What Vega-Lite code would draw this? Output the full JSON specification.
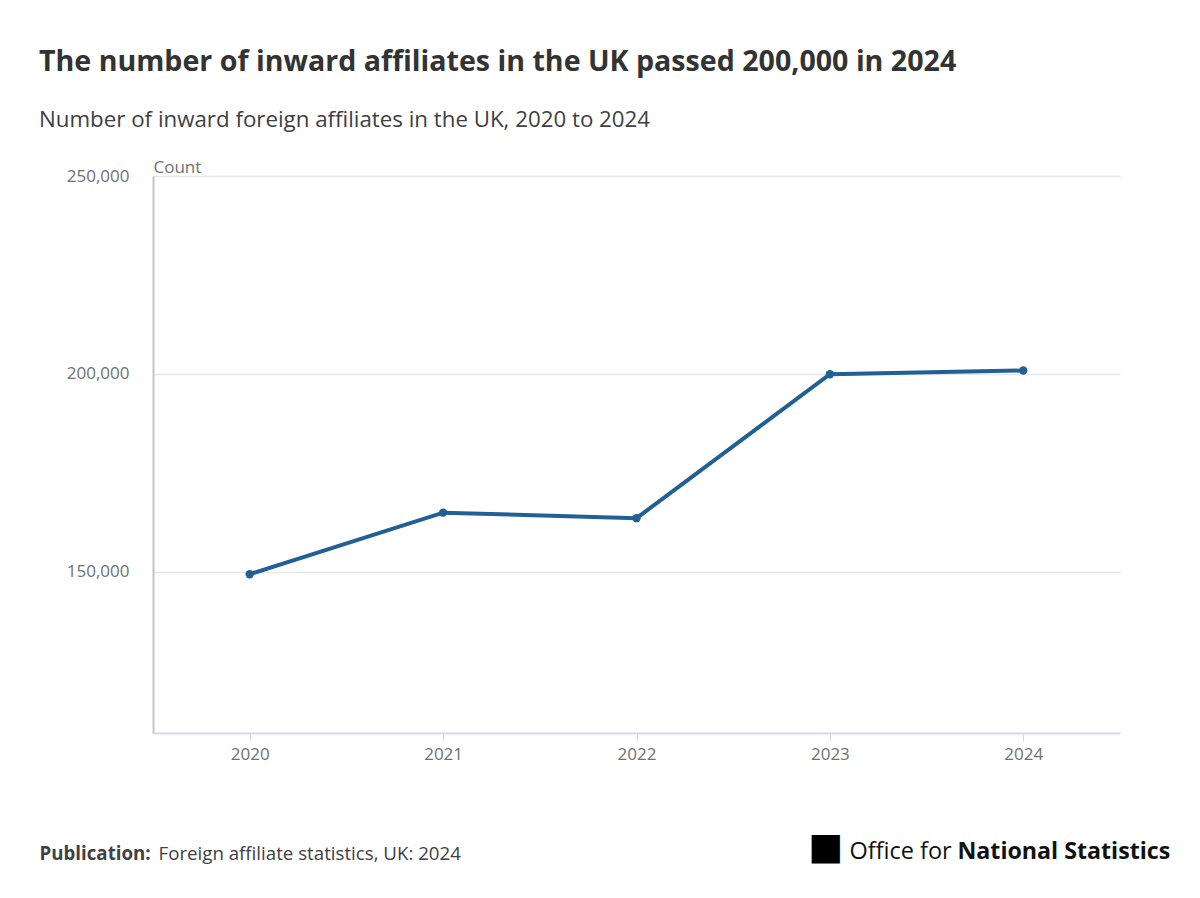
{
  "$schema": "https://vega.github.io/schema/vega-lite/v6.json",
  "width": 967,
  "height": 557,
  "autosize": {"type": "none"},
  "padding": {"left": 153, "top": 176, "right": 80, "bottom": 165},
  "background": "white",
  "config": {
    "font": "Open Sans",
    "view": {"stroke": null}
  },
  "title": {
    "text": "The number of inward affiliates in the UK passed 200,000 in 2024",
    "subtitle": "Number of inward foreign affiliates in the UK, 2020 to 2024",
    "anchor": "start",
    "frame": "group",
    "dx": -114,
    "offset": 27,
    "font": "Open Sans",
    "fontSize": 28.6,
    "fontWeight": "bold",
    "color": "#333333",
    "subtitleFont": "Open Sans",
    "subtitleFontSize": 22.3,
    "subtitleColor": "#414042",
    "subtitlePadding": 32
  },
  "data": {
    "values": [
      {"year": "2020", "affiliates": 149340},
      {"year": "2021", "affiliates": 164900},
      {"year": "2022", "affiliates": 163500},
      {"year": "2023", "affiliates": 199900},
      {"year": "2024", "affiliates": 200830}
    ]
  },
  "layer": [
    {
      "mark": {"type": "line", "opacity": 0},
      "encoding": {
        "x": {
          "field": "year", "type": "ordinal",
          "scale": {"type": "point", "padding": 0.5, "domain": ["2020", "2021", "2022", "2023", "2024"]},
          "axis": {
            "orient": "top", "labels": false, "ticks": false, "domain": false, "grid": false,
            "title": "National Statistics",
            "titleX": 804, "titleY": 682, "titleAlign": "left", "titleAnchor": null,
            "titleBaseline": "alphabetic", "titleFont": "Open Sans", "titleFontSize": 23.2,
            "titleFontWeight": "bold", "titleColor": "#111111"
          }
        },
        "y": {
          "field": "affiliates", "type": "quantitative",
          "scale": {"domain": [109200, 250000], "nice": false, "zero": false},
          "axis": {
            "orient": "left", "labels": false, "ticks": false, "domain": false, "grid": false,
            "title": "■", "titleAngle": 0,
            "titleX": 655, "titleY": 682, "titleAlign": "left", "titleAnchor": null,
            "titleBaseline": "alphabetic", "titleFont": "DejaVu Sans", "titleFontSize": 37,
            "titleFontWeight": "normal", "titleColor": "#000000"
          }
        }
      }
    },
    {
      "mark": {"type": "line", "color": "#206095", "strokeWidth": 4},
      "encoding": {
        "x": {
          "field": "year", "type": "ordinal",
          "scale": {"type": "point", "padding": 0.5, "domain": ["2020", "2021", "2022", "2023", "2024"]},
          "axis": {
            "orient": "bottom",
            "labelAngle": 0,
            "labelFont": "Open Sans", "labelFontSize": 17, "labelColor": "#707070",
            "labelPadding": 5,
            "domainColor": "#d3dae6", "domainWidth": 2,
            "tickColor": "#d3dae6", "tickSize": 8, "tickWidth": 1,
            "grid": false,
            "title": "Publication:",
            "titleX": -114, "titleY": 126, "titleAlign": "left", "titleAnchor": null,
            "titleBaseline": "alphabetic", "titleFont": "Open Sans", "titleFontSize": 18.7,
            "titleFontWeight": "bold", "titleColor": "#414042"
          }
        },
        "y": {
          "field": "affiliates", "type": "quantitative",
          "scale": {"domain": [109200, 250000], "nice": false, "zero": false},
          "axis": {
            "orient": "left",
            "values": [150000, 200000, 250000],
            "format": ",d",
            "labelFont": "Open Sans", "labelFontSize": 17, "labelColor": "#707070",
            "labelPadding": 24,
            "ticks": false,
            "domainColor": "#c4c4c4", "domainWidth": 2,
            "grid": true, "gridColor": "#e6e6e6", "gridWidth": 1.5,
            "title": "Count", "titleAngle": 0,
            "titleX": 0, "titleY": -4, "titleAlign": "left", "titleAnchor": null,
            "titleBaseline": "alphabetic", "titleFont": "Open Sans", "titleFontSize": 17,
            "titleFontWeight": "normal", "titleColor": "#707070"
          }
        }
      }
    },
    {
      "mark": {"type": "point", "filled": true, "color": "#206095", "size": 70, "opacity": 1},
      "encoding": {
        "x": {
          "field": "year", "type": "ordinal",
          "scale": {"type": "point", "padding": 0.5, "domain": ["2020", "2021", "2022", "2023", "2024"]},
          "axis": {
            "orient": "bottom", "labels": false, "ticks": false, "domain": false, "grid": false,
            "title": "Foreign affiliate statistics, UK: 2024",
            "titleX": 5, "titleY": 126, "titleAlign": "left", "titleAnchor": null,
            "titleBaseline": "alphabetic", "titleFont": "Open Sans", "titleFontSize": 18.7,
            "titleFontWeight": "normal", "titleColor": "#414042"
          }
        },
        "y": {
          "field": "affiliates", "type": "quantitative",
          "scale": {"domain": [109200, 250000], "nice": false, "zero": false},
          "axis": {
            "orient": "right", "labels": false, "ticks": false, "domain": false, "grid": false,
            "title": "Office for", "titleAngle": 0,
            "titleX": -271, "titleY": 682, "titleAlign": "left", "titleAnchor": null,
            "titleBaseline": "alphabetic", "titleFont": "Open Sans", "titleFontSize": 23.5,
            "titleFontWeight": "normal", "titleColor": "#111111"
          }
        }
      }
    }
  ],
  "resolve": {"scale": {"x": "independent", "y": "independent"}, "axis": {"x": "independent", "y": "independent"}}
}
